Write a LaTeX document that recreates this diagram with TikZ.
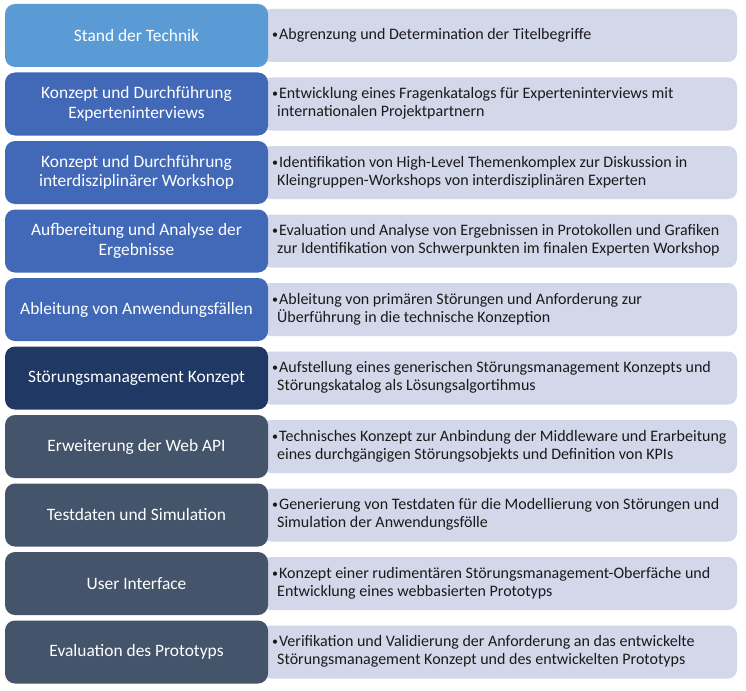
\documentclass[tikz,border=0pt]{standalone}
\usepackage{fontspec}
\usepackage{graphicx}
\setmainfont{Carlito}
\definecolor{phaseA}{HTML}{5B9BD5}
\definecolor{phaseB}{HTML}{4169B8}
\definecolor{phaseC}{HTML}{203864}
\definecolor{phaseD}{HTML}{44546A}
\definecolor{detailbg}{HTML}{D3D7EA}
\definecolor{detailtxt}{HTML}{1A1A1A}
\tikzset{
  phasebox/.style={rounded corners=10pt, draw=none},
  detailbox/.style={fill=detailbg, rounded corners=9pt, draw=none},
  phasetext/.style={text=white, font=\fontsize{17.4}{19.5}\selectfont, align=center},
  detailtext/.style={text=detailtxt, font=\fontsize{16}{18.3}\selectfont, align=left, anchor=west, inner sep=0pt},
}
\newcommand\bul{\raisebox{1pt}{\scalebox{0.75}{\textbullet}}\hspace{1pt}}
\newcommand\cont{\\\hspace*{5pt}}
% #1 row index, #2 top edge, #3 colour, #4 phase title, #5 description
\newcommand\phaserow[5]{%
  \fill[detailbox] (262,#2+5) rectangle (737,#2+58);
  \fill[phasebox, fill=#3] (5,#2) rectangle (268,#2+63);
  \node[phasetext] (p#1) at (136.5,#2+31.5) {#4};
  \node[detailtext] (d#1) at (272,#2+31) {#5};
}
\begin{document}
\begin{tikzpicture}[x=1pt,y=-1pt]
\useasboundingbox (0,0) rectangle (746,690);
\fill[white] (0,0) rectangle (746,690);
\phaserow{1}{4}{phaseA}{Stand der Technik}
  {\bul Abgrenzung und Determination der Titelbegriffe}
\phaserow{2}{72.5}{phaseB}{Konzept und Durchführung\\Experteninterviews}
  {\bul Entwicklung eines Fragenkatalogs für Experteninterviews mit\cont internationalen Projektpartnern}
\phaserow{3}{141}{phaseB}{Konzept und Durchführung\\interdisziplinärer Workshop}
  {\bul Identifikation von High-Level Themenkomplex zur Diskussion in\cont Kleingruppen-Workshops von interdisziplinären Experten}
\phaserow{4}{209.5}{phaseB}{Aufbereitung und Analyse der\\Ergebnisse}
  {\bul Evaluation und Analyse von Ergebnissen in Protokollen und Grafiken\cont zur Identifikation von Schwerpunkten im finalen Experten Workshop}
\phaserow{5}{278}{phaseB}{Ableitung von Anwendungsfällen}
  {\bul Ableitung von primären Störungen und Anforderung zur\cont Überführung in die technische Konzeption}
\phaserow{6}{346.5}{phaseC}{Störungsmanagement Konzept}
  {\bul Aufstellung eines generischen Störungsmanagement Konzepts und\cont Störungskatalog als Lösungsalgortihmus}
\phaserow{7}{415}{phaseD}{Erweiterung der Web API}
  {\bul Technisches Konzept zur Anbindung der Middleware und Erarbeitung\cont eines durchgängigen Störungsobjekts und Definition von KPIs}
\phaserow{8}{483.5}{phaseD}{Testdaten und Simulation}
  {\bul Generierung von Testdaten für die Modellierung von Störungen und\cont Simulation der Anwendungsfölle}
\phaserow{9}{552}{phaseD}{User Interface}
  {\bul Konzept einer rudimentären Störungsmanagement-Oberfäche und\cont Entwicklung eines webbasierten Prototyps}
\phaserow{10}{620.5}{phaseD}{Evaluation des Prototyps}
  {\bul Verifikation und Validierung der Anforderung an das entwickelte\cont Störungsmanagement Konzept und des entwickelten Prototyps}
\end{tikzpicture}
\end{document}
